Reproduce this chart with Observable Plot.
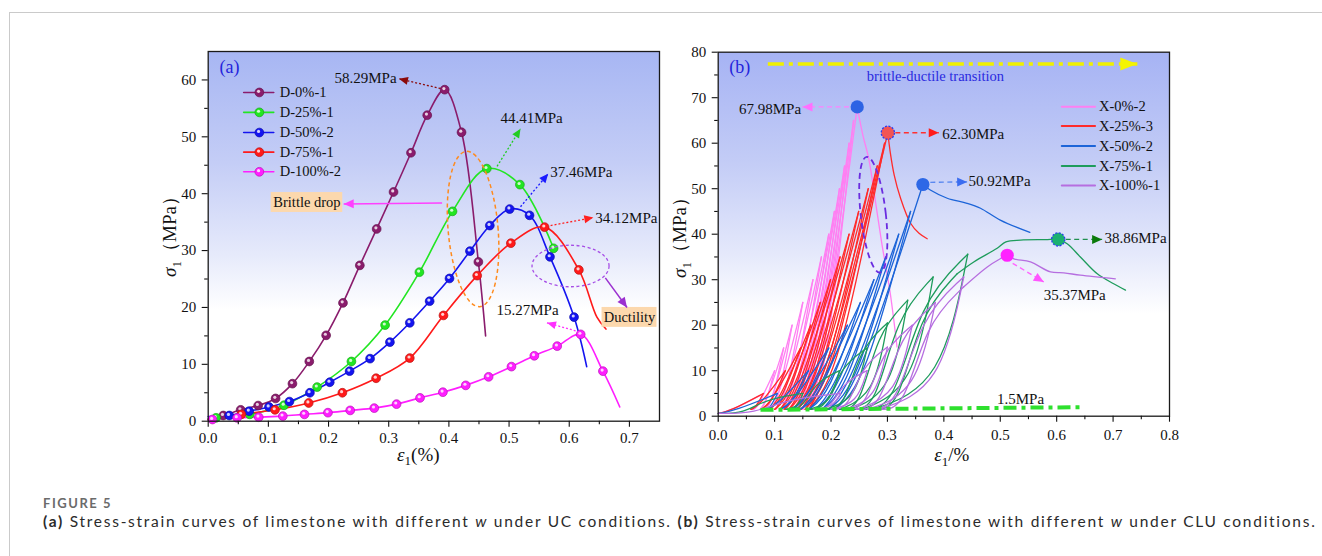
<!DOCTYPE html>
<html>
<head>
<meta charset="utf-8">
<script src="https://cdn.jsdelivr.net/npm/d3@7"></script>
<script src="https://cdn.jsdelivr.net/npm/@observablehq/plot@0.6"></script>
<style>
  html,body{margin:0;padding:0;background:#fff;}
  #page{position:relative;width:1322px;height:556px;overflow:hidden;background:#fff;}
  #panelA{position:absolute;left:0;top:0;}
  #panelB{position:absolute;left:660px;top:0;}
  #border{position:absolute;left:9px;top:12px;right:0;bottom:0;border-left:1px solid #cacaca;border-top:1px solid #cacaca;pointer-events:none;}
  #figlabel{position:absolute;left:43px;top:497.5px;font-family:Lato;font-weight:700;font-size:13px;line-height:11px;color:#6b6b6b;white-space:nowrap;}
  #caption{position:absolute;left:43px;top:515px;font-family:Lato;font-size:15.5px;line-height:12px;color:#2b2b2b;white-space:nowrap;}
</style>
</head>
<body>
<div id="page">
  <div id="panelA"></div>
  <div id="panelB"></div>
  <div id="border"></div>
  <div id="figlabel">FIGURE 5</div>
  <div id="caption"><b>(a)</b> Stress-strain curves of limestone with different <i>w</i> under UC conditions. <b>(b)</b> Stress-strain curves of limestone with different <i>w</i> under CLU conditions.</div>
</div>
<script>
// ================= Panel (a): UC curves  [strain %, stress MPa] =================
const D0_start = [0.0, 0.4];
const D0_pts = [[0.025,1.0],[0.054,2.0],[0.083,2.75],[0.112,4.0],[0.140,6.6],[0.168,10.5],[0.196,15.1],[0.224,20.8],[0.252,27.4],[0.280,33.8],[0.308,40.3],[0.337,47.2],[0.364,53.8],[0.393,58.29],[0.421,50.8],[0.449,28.0]];
const D0_tail = [[0.461,15.0]];

const D25_start = [0.0, 0.3];
const D25_pts = [[0.013,0.6],[0.069,1.2],[0.126,2.8],[0.181,6.0],[0.238,10.5],[0.294,16.9],[0.351,26.2],[0.406,36.9],[0.463,44.41],[0.518,41.6],[0.574,30.4]];
const D25_tail = [];

const D50_start = [0.0, 0.8];
const D50_pts = [[0.035,1.0],[0.068,1.76],[0.101,2.5],[0.135,3.45],[0.169,5.0],[0.202,6.85],[0.235,8.8],[0.269,11.0],[0.302,13.9],[0.335,17.3],[0.368,21.1],[0.401,25.1],[0.435,29.9],[0.468,34.4],[0.501,37.3],[0.534,36.2],[0.568,28.9],[0.608,18.3]];
const D50_tail = [[0.629,9.6]];

const D75_start = [0.0, 0.3];
const D75_pts = [[0.055,1.2],[0.111,2.0],[0.167,3.2],[0.223,5.0],[0.279,7.55],[0.335,11.1],[0.391,18.6],[0.447,25.6],[0.503,31.3],[0.559,34.12],[0.616,26.6]];
const D75_tail = [[0.646,18.3],[0.661,16.2]];

const D100_start = [0.0, 0.2];
const D100_pts = [[0.007,0.3],[0.048,0.6],[0.084,0.7],[0.124,0.9],[0.160,1.2],[0.199,1.5],[0.236,1.9],[0.276,2.3],[0.313,3.0],[0.352,4.1],[0.390,5.1],[0.428,6.3],[0.466,7.8],[0.504,9.6],[0.542,11.5],[0.580,13.2],[0.619,15.27],[0.656,8.8]];
const D100_tail = [[0.684,2.5]];

const A_names = ["D-0%-1","D-25%-1","D-50%-2","D-75%-1","D-100%-2"];
const A_peakLabels = ["58.29MPa","44.41MPa","37.46MPa","34.12MPa","15.27MPa"];

const xTicksA = [0,0.1,0.2,0.3,0.4,0.5,0.6,0.7];
const xTickLabelsA = ["0.0","0.1","0.2","0.3","0.4","0.5","0.6","0.7"];
const xMinorA = [0.05,0.15,0.25,0.35,0.45,0.55,0.65];
const yTicksA = [0,10,20,30,40,50,60];
const yTickLabelsA = ["0","10","20","30","40","50","60"];
const yMinorA = [5,15,25,35,45,55];

// ================= Panel (b): CLU cyclic curves =================
// cycle peaks [strain, stress], residual strain after each unloading (to 1.5 MPa), envelope / post-peak
const X0_peaks = [[0.081,5],[0.100,10],[0.116,15],[0.131,20],[0.150,25],[0.168,30],[0.183,35],[0.196,40],[0.206,45],[0.215,50],[0.224,55],[0.232,60],[0.240,65]];
const X0_res = [0.062,0.074,0.084,0.093,0.102,0.111,0.120,0.128,0.136,0.143,0.150,0.156,0.162];
const X0_env = [[0.2464,67.98],[0.256,62],[0.267,56.5],[0.279,47],[0.290,38],[0.305,27],[0.317,15.2]];

const X25_peaks = [[0.080,5],[0.119,10],[0.146,15],[0.164,20],[0.181,25],[0.199,30],[0.216,35],[0.232,40],[0.249,45],[0.266,50],[0.282,55],[0.295,60]];
const X25_res = [0.058,0.076,0.090,0.100,0.109,0.117,0.125,0.133,0.140,0.147,0.154,0.160];
const X25_env = [[0.3007,62.30],[0.305,58],[0.312,53],[0.323,48],[0.341,42.4],[0.356,40.2],[0.3705,39.0]];

const X50_peaks = [[0.105,5],[0.160,10],[0.196,15],[0.229,20],[0.252,25],[0.276,30],[0.297,35],[0.320,40],[0.341,45]];
const X50_res = [0.085,0.110,0.130,0.145,0.160,0.172,0.184,0.196,0.207];
const X50_env = [[0.3628,50.92],[0.376,49.7],[0.406,47.9],[0.441,46.8],[0.465,45.7],[0.500,43.1],[0.5525,40.4]];

const X75_peaks = [[0.150,5],[0.215,10],[0.264,15],[0.300,20.5],[0.336,25.5],[0.381,30.6],[0.4424,35.6]];
const X75_res = [0.120,0.160,0.190,0.215,0.235,0.255,0.275];
const X75_env = [[0.4236,31.3],[0.453,33.9],[0.4945,36.9],[0.510,38.3],[0.536,38.7],[0.580,38.8],[0.6027,38.86],[0.6186,37.9],[0.642,35.0],[0.672,31.3],[0.701,29.1],[0.722,27.7]];

const X100_peaks = [[0.217,5],[0.264,10],[0.300,15.2],[0.344,20],[0.385,25],[0.4353,30.6]];
const X100_res = [0.170,0.200,0.225,0.245,0.265,0.285];
const X100_env = [[0.435,28.4],[0.477,32.8],[0.500,34.6],[0.5123,35.37],[0.524,34.6],[0.5536,33.9],[0.589,31.7],[0.6127,31.5],[0.642,31.0],[0.704,30.2]];

const B_names = ["X-0%-2","X-25%-3","X-50%-2","X-75%-1","X-100%-1"];
const B_peakLabels = ["67.98MPa","62.30MPa","50.92MPa","38.86MPa","35.37MPa"];
const B_lowStress = 1.5;   // unloading lower limit, "1.5MPa"

const xTicksB = [0,0.1,0.2,0.3,0.4,0.5,0.6,0.7,0.8];
const xTickLabelsB = ["0.0","0.1","0.2","0.3","0.4","0.5","0.6","0.7","0.8"];
const xMinorB = [0.05,0.15,0.25,0.35,0.45,0.55,0.65,0.75];
const yTicksB = [0,10,20,30,40,50,60,70,80];
const yTickLabelsB = ["0","10","20","30","40","50","60","70","80"];
const yMinorB = [5,15,25,35,45,55,65,75];

// ================= helpers =================
const NS = "http://www.w3.org/2000/svg";
function tri(fill, len, half) {
  return (color, context) => {
    const doc = (context && context.document) || document;
    const m = doc.createElementNS(NS, "marker");
    m.setAttribute("viewBox", `${-len} ${-half} ${len} ${2*half}`);
    m.setAttribute("markerWidth", len);
    m.setAttribute("markerHeight", 2*half);
    m.setAttribute("markerUnits", "userSpaceOnUse");
    m.setAttribute("orient", "auto");
    m.setAttribute("overflow", "visible");
    const p = doc.createElementNS(NS, "path");
    p.setAttribute("d", `M${-len},${-half}L0,0L${-len},${half}Z`);
    p.setAttribute("fill", fill);
    p.setAttribute("stroke", "none");
    p.setAttribute("stroke-dasharray", "none");
    m.appendChild(p);
    return m;
  };
}
const fx = d => d[0], fy = d => d[1];
function spheres(pts, color, r) {
  return [
    Plot.dot(pts, {x: fx, y: fy, r, fill: color, stroke: d3.color(color).darker(0.9).formatHex(), strokeWidth: 0.7}),
    Plot.dot(pts, {x: fx, y: fy, r: r*0.36, fill: "white", fillOpacity: 0.8, dx: -0.8, dy: -1.1})
  ];
}
function addGradient(svg, id, stops) {
  const defs = d3.select(svg).insert("defs", ":first-child");
  const g = defs.append("linearGradient").attr("id", id).attr("x1", 0).attr("y1", 0).attr("x2", 0).attr("y2", 1);
  stops.forEach(([o, c]) => g.append("stop").attr("offset", o).attr("stop-color", c));
}
function addEllipse(plot, e) {
  const sx = plot.scale("x"), sy = plot.scale("y");
  const cx = sx.apply(e.x), cy = sy.apply(e.y);
  const rx = sx.apply(e.x + e.rx) - cx, ry = cy - sy.apply(e.y + e.ry);
  d3.select(plot).append("ellipse")
    .attr("transform", `translate(${cx},${cy}) rotate(${e.rot})`)
    .attr("rx", rx).attr("ry", ry)
    .attr("fill", "none").attr("stroke", e.color).attr("stroke-width", e.w).attr("stroke-dasharray", e.dash);
}
function axisLabel(plot, x, y, main, sub, rest, rotate) {
  const t = d3.select(plot).append("text")
    .attr("transform", `translate(${x},${y})` + (rotate ? " rotate(-90)" : ""))
    .attr("text-anchor", "middle").attr("font-family", '"Liberation Serif", serif')
    .attr("font-size", 19).attr("fill", "#111");
  t.append("tspan").attr("font-style", "italic").text(main);
  t.append("tspan").attr("font-size", 13).attr("dy", 4.5).text(sub);
  t.append("tspan").attr("dy", -4.5).text(rest);
}
function axes(xT, xL, xM, yT, yL, yM, xPad) {
  return [
    Plot.axisX({ticks: xT, tickFormat: d => xL[xT.indexOf(d)], tickSize: 6, tickPadding: xPad, fontSize: 15, label: null, strokeWidth: 1.1}),
    Plot.axisX({ticks: xM, tickFormat: () => "", tickSize: 3.5, label: null, strokeWidth: 1.1}),
    Plot.axisY({ticks: yT, tickFormat: d => yL[yT.indexOf(d)], tickSize: 6, tickPadding: 6, fontSize: 15, label: null, strokeWidth: 1.1}),
    Plot.axisY({ticks: yM, tickFormat: () => "", tickSize: 3.5, label: null, strokeWidth: 1.1})
  ];
}
const plotStyle = {fontFamily: '"Liberation Serif", serif', fontSize: "15px", color: "#111", background: "transparent", overflow: "visible"};

// ================= Panel (a) =================
const A_series = [
  {name: A_names[0], color: "#8a1c6c", start: D0_start, pts: D0_pts, tail: D0_tail},
  {name: A_names[1], color: "#22e622", start: D25_start, pts: D25_pts, tail: D25_tail},
  {name: A_names[2], color: "#1414f0", start: D50_start, pts: D50_pts, tail: D50_tail},
  {name: A_names[3], color: "#ff1a1a", start: D75_start, pts: D75_pts, tail: D75_tail},
  {name: A_names[4], color: "#ff1eff", start: D100_start, pts: D100_pts, tail: D100_tail}
];
// annotation anchors in data units
const A_legendY = [57.8, 54.3, 50.75, 47.3, 43.85];
const A_arrows = [
  {x1:0.386, y1:58.5, x2:0.317, y2:60.2, c:"#8b0a0a"},
  {x1:0.480, y1:44.8, x2:0.519, y2:51.4, c:"#22cc22"},
  {x1:0.519, y1:37.7, x2:0.565, y2:43.5, c:"#1a1aff"},
  {x1:0.569, y1:34.4, x2:0.640, y2:35.8, c:"#ff2020"},
  {x1:0.617, y1:15.7, x2:0.563, y2:17.3, c:"#ff30ff"}
];
const A_texts = [
  {x:0.313, y:60.3, anchor:"end"},
  {x:0.5375, y:53.3, anchor:"middle"},
  {x:0.5686, y:43.85, anchor:"start"},
  {x:0.6434, y:35.65, anchor:"start"},
  {x:0.5307, y:19.56, anchor:"middle"}
];
const marksA = [Plot.frame({fill: "url(#grada)", stroke: "none"})];
A_series.forEach(s => marksA.push(Plot.line([s.start, ...s.pts, ...s.tail], {x: fx, y: fy, stroke: s.color, strokeWidth: 1.6, curve: "catmull-rom"})));
A_series.forEach(s => marksA.push(...spheres(s.pts, s.color, 4.4)));
// legend
A_series.forEach((s, i) => {
  marksA.push(Plot.line([[0.059, A_legendY[i]], [0.109, A_legendY[i]]], {x: fx, y: fy, stroke: s.color, strokeWidth: 1.6}));
  marksA.push(...spheres([[0.085, A_legendY[i]]], s.color, 4.4));
  marksA.push(Plot.text([s.name], {x: 0.119, y: A_legendY[i], text: d => d, textAnchor: "start", fontSize: 14.5, fill: "#111"}));
});
// peak arrows and labels
A_arrows.forEach(a => marksA.push(Plot.link([a], {x1: "x1", y1: "y1", x2: "x2", y2: "y2", stroke: a.c, strokeWidth: 1.3, strokeDasharray: "2,2", markerEnd: tri(a.c, 9, 4)})));
A_texts.forEach((t, i) => marksA.push(Plot.text([A_peakLabels[i]], {x: t.x, y: t.y, text: d => d, textAnchor: t.anchor, fontSize: 15, fill: "#111"})));
// boxes
marksA.push(Plot.rect([{x1:0.1047, x2:0.2236, y1:36.7, y2:40.2}, {x1:0.6545, x2:0.7458, y1:16.5, y2:20.0}], {x1:"x1", x2:"x2", y1:"y1", y2:"y2", fill: "#fcd8ad"}));
marksA.push(Plot.text(["Brittle drop"], {x: 0.1641, y: 38.45, text: d => d, fontSize: 14.5, fill: "#111"}));
marksA.push(Plot.text(["Ductility"], {x: 0.7001, y: 18.25, text: d => d, fontSize: 14.5, fill: "#111"}));
marksA.push(Plot.link([{x1:0.3887, y1:38.35, x2:0.2252, y2:38.2}], {x1:"x1", y1:"y1", x2:"x2", y2:"y2", stroke: "#ff40ff", strokeWidth: 1.5, markerEnd: tri("#ff40ff", 10, 4.5)}));
marksA.push(Plot.link([{x1:0.660, y1:25.2, x2:0.696, y2:20.0}], {x1:"x1", y1:"y1", x2:"x2", y2:"y2", stroke: "#9b30d0", strokeWidth: 1.5, markerEnd: tri("#9b30d0", 10, 4.5)}));
marksA.push(Plot.text(["(a)"], {x: 0.0354, y: 62.2, text: d => d, fontSize: 18, fill: "#2424dc"}));
marksA.push(Plot.frame({stroke: "#1a1a1a", strokeWidth: 1.3}));
marksA.push(...axes(xTicksA, xTickLabelsA, xMinorA, yTicksA, yTickLabelsA, yMinorA, 5.5));

const plotA = Plot.plot({
  width: 660, height: 480,
  marginLeft: 207.7, marginRight: 1, marginTop: 51, marginBottom: 59.3,
  x: {domain: [0, 0.75]}, y: {domain: [0, 65]},
  style: plotStyle,
  marks: marksA
});
addGradient(plotA, "grada", [[0, "#a7b6f3"], [0.3, "#c4cdf6"], [0.55, "#e6eafb"], [0.7, "#ffffff"], [1, "#ffffff"]]);
addEllipse(plotA, {x: 0.441, y: 33.7, rx: 0.0415, ry: 13.7, rot: -5, color: "#ff8a1c", w: 1.5, dash: "4,3"});
addEllipse(plotA, {x: 0.603, y: 27.2, rx: 0.064, ry: 3.65, rot: 0, color: "#a64ee6", w: 1.3, dash: "3,2.5"});
axisLabel(plotA, 418.3, 460.5, "ε", "1", "(%)", false);
axisLabel(plotA, 176, 232, "σ", "1", "（MPa）", true);
document.getElementById("panelA").appendChild(plotA);

// ================= Panel (b) =================
// B-spline control points, as fractions of each branch's strain/stress span
const loadThin = [[0.275, 0.125]], unloadThin = [[0.3875, 0.125]];
const loadFat = [[0.3, 0], [0.55, 0.7]], unloadFat = [[0.725, 0.16]];
function cycleRows(start, peaks, res, envStart, loadC, unloadC) {
  const rows = []; let b = 0; let p = start;
  const push = pts => { pts.forEach(([x, y]) => rows.push({x, y, b})); b++; };
  const ctrl = (a, c, cs) => cs.map(([u, v]) => [a[0] + u*(c[0]-a[0]), a[1] + v*(c[1]-a[1])]);
  peaks.forEach((pk, i) => {
    push([p, ...ctrl(p, pk, loadC), pk]);
    const r = [res[i], B_lowStress];
    push([pk, ...ctrl(r, pk, unloadC).reverse(), r]);
    p = r;
  });
  push([p, ...ctrl(p, envStart, loadC), envStart]);
  return rows;
}
const B_series = [
  {name: B_names[0], color: "#ff7ff2", peaks: X0_peaks, res: X0_res, env: X0_env, lc: loadThin, uc: unloadThin},
  {name: B_names[1], color: "#ff2b2b", peaks: X25_peaks, res: X25_res, env: X25_env, lc: loadThin, uc: unloadThin},
  {name: B_names[2], color: "#1c64d8", peaks: X50_peaks, res: X50_res, env: X50_env, lc: loadThin, uc: unloadThin},
  {name: B_names[3], color: "#1e9c5c", peaks: X75_peaks, res: X75_res, env: X75_env, lc: loadFat, uc: unloadFat},
  {name: B_names[4], color: "#b66ee0", peaks: X100_peaks, res: X100_res, env: X100_env, lc: loadFat, uc: unloadFat}
];
const B_start = [0.0, 0.6];
const B_legendY = [68.0, 63.8, 59.4, 55.0, 50.7];
const B_peakPts = [[0.2464,67.98],[0.3007,62.30],[0.3628,50.92],[0.6027,38.86],[0.5123,35.37]];
const B_peakFill = ["#2d63e4", "#f25454", "#2d68e6", "#1bb071", "#ff22ff"];
const B_peakDotted = [false, true, false, true, false];
const B_arrows = [
  {x1:0.232, y1:67.98, x2:0.1494, y2:67.98, c:"#ff80ff", h:"#ff70ff"},
  {x1:0.314, y1:62.30, x2:0.391, y2:62.30, c:"#ff3030", h:"#ff1a1a"},
  {x1:0.376, y1:51.4, x2:0.4413, y2:51.5, c:"#5a88f0", h:"#3a6cf0"},
  {x1:0.616, y1:38.86, x2:0.6806, y2:38.86, c:"#209050", h:"#0a7a0a"},
  {x1:0.522, y1:33.6, x2:0.5771, y2:29.5, c:"#ff66ff", h:"#ff55ff"}
];
const B_texts = [
  {x:0.147, y:67.5, anchor:"end"},
  {x:0.397, y:62.0, anchor:"start"},
  {x:0.4437, y:51.6, anchor:"start"},
  {x:0.6847, y:39.1, anchor:"start"},
  {x:0.632, y:26.57, anchor:"middle"}
];
const marksB = [Plot.frame({fill: "url(#gradb)", stroke: "none"})];
B_series.forEach(s => {
  marksB.push(Plot.line(cycleRows(B_start, s.peaks, s.res, s.env[0], s.lc, s.uc), {x: "x", y: "y", z: "b", stroke: s.color, strokeWidth: 1.3, curve: "basis"}));
  marksB.push(Plot.line(s.env, {x: fx, y: fy, stroke: s.color, strokeWidth: 1.3, curve: "catmull-rom"}));
});
// 1.5 MPa line and brittle-ductile arrow
marksB.push(Plot.link([{x1:0.075, y1:1.39, x2:0.642, y2:1.98}], {x1:"x1", y1:"y1", x2:"x2", y2:"y2", stroke: "#2ee02e", strokeWidth: 4, strokeDasharray: "13,5,4,5"}));
marksB.push(Plot.text(["1.5MPa"], {x: 0.536, y: 3.83, text: d => d, fontSize: 15, fill: "#111"}));
marksB.push(Plot.link([{x1:0.088, y1:77.4, x2:0.743, y2:77.4}], {x1:"x1", y1:"y1", x2:"x2", y2:"y2", stroke: "#f0f000", strokeWidth: 3.5, strokeDasharray: "16,5,4,5", markerEnd: tri("#f4f400", 17, 6.5)}));
marksB.push(Plot.text(["brittle-ductile transition"], {x: 0.3851, y: 74.78, text: d => d, fontSize: 14.5, fill: "#2a2ae0"}));
marksB.push(Plot.text(["(b)"], {x: 0.0383, y: 76.8, text: d => d, fontSize: 18, fill: "#2424dc"}));
// peak arrows, circles, labels
B_arrows.forEach(a => marksB.push(Plot.link([a], {x1:"x1", y1:"y1", x2:"x2", y2:"y2", stroke: a.c, strokeWidth: 1.4, strokeDasharray: "5,3.5", markerEnd: tri(a.h, 10, 4.5)})));
B_peakPts.forEach((p, i) => marksB.push(Plot.dot([p], {x: fx, y: fy, r: 6.6, fill: B_peakFill[i], stroke: B_peakDotted[i] ? "#2a3cf0" : "none", strokeWidth: 1.3, strokeDasharray: "2,1.5"})));
B_texts.forEach((t, i) => marksB.push(Plot.text([B_peakLabels[i]], {x: t.x, y: t.y, text: d => d, textAnchor: t.anchor, fontSize: 15, fill: "#111"})));
// legend
B_series.forEach((s, i) => {
  marksB.push(Plot.line([[0.609, B_legendY[i]], [0.668, B_legendY[i]]], {x: fx, y: fy, stroke: s.color, strokeWidth: 2}));
  marksB.push(Plot.text([s.name], {x: 0.675, y: B_legendY[i], text: d => d, textAnchor: "start", fontSize: 14.5, fill: "#111"}));
});
marksB.push(Plot.frame({stroke: "#1a1a1a", strokeWidth: 1.3}));
marksB.push(...axes(xTicksB, xTickLabelsB, xMinorB, yTicksB, yTickLabelsB, yMinorB, 7.5));

const plotB = Plot.plot({
  width: 662, height: 480,
  marginLeft: 57.7, marginRight: 153, marginTop: 51.7, marginBottom: 64.3,
  x: {domain: [0, 0.8]}, y: {domain: [0, 80]},
  style: plotStyle,
  marks: marksB
});
addGradient(plotB, "gradb", [[0, "#a6b3f4"], [0.3, "#c3ccf6"], [0.55, "#e4e8fb"], [0.72, "#ffffff"], [1, "#ffffff"]]);
addEllipse(plotB, {x: 0.2758, y: 44.18, rx: 0.0222, ry: 12.8, rot: -6.5, color: "#6a2ce0", w: 1.8, dash: "6,4"});
axisLabel(plotB, 951.7 - 660, 461, "ε", "1", "/%", false);
axisLabel(plotB, 26, 233, "σ", "1", "（MPa）", true);
document.getElementById("panelB").appendChild(plotB);

// fit caption widths to the reference
function fitWidth(el, target) {
  const w = el.getBoundingClientRect().width;
  el.style.letterSpacing = ((target - w) / el.textContent.length) + "px";
}
fitWidth(document.getElementById("caption"), 1273);
fitWidth(document.getElementById("figlabel"), 69);
</script>
</body>
</html>
